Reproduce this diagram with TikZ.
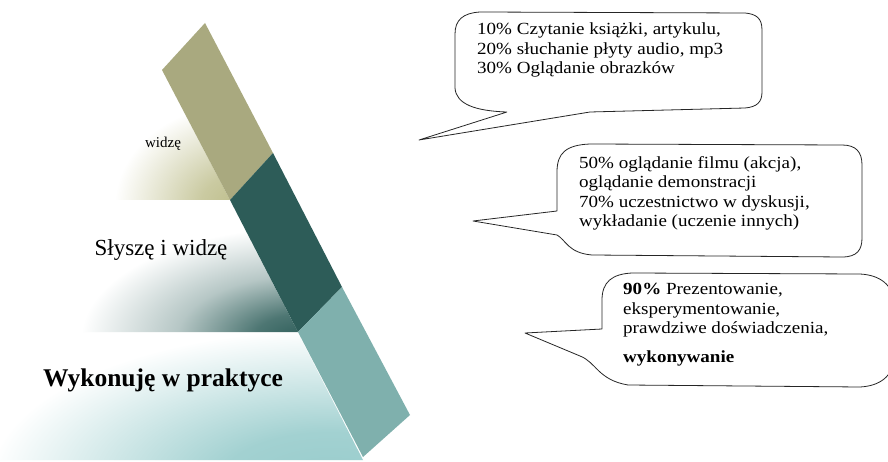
\documentclass[tikz,border=0pt]{standalone}
\usepackage{fontspec}
\setmainfont{Liberation Serif}
\newfontfamily\cfont[FakeStretch=1.12]{Liberation Serif}
\definecolor{olivestrip}{HTML}{A9A97F}
\definecolor{darkstrip}{HTML}{2D5C58}
\definecolor{tealstrip}{HTML}{7FB0AD}
\definecolor{olivetier}{HTML}{BDBD8A}
\definecolor{darktier}{HTML}{2E5E5A}
\definecolor{tealtier}{HTML}{98CCCC}
\pgfdeclareradialshading{topshade}{\pgfpoint{0bp}{0bp}}{color(0bp)=(olivetier); color(6bp)=(olivetier!80!white); color(19bp)=(white); color(50bp)=(white)}
\pgfdeclareradialshading{midshade}{\pgfpoint{0bp}{0bp}}{color(0bp)=(darktier); color(5bp)=(darktier!85!white); color(13bp)=(darktier!35!white); color(23bp)=(white); color(50bp)=(white)}
\pgfdeclareradialshading{botshade}{\pgfpoint{0bp}{0bp}}{color(0bp)=(tealtier); color(8bp)=(tealtier!90!white); color(25bp)=(white); color(50bp)=(white)}
\tikzset{
  bubble/.style={draw=black!85, line width=0.8pt, fill=white, line join=round},
  ctext/.style={anchor=north west, inner sep=0pt, align=left, font=\cfont\fontsize{17}{19.5}\selectfont},
}
\begin{document}
\begin{tikzpicture}[x=1pt,y=-1pt]
\useasboundingbox (0,0) rectangle (888,462);
\clip (0,0) rectangle (888,462);
\fill[white] (0,0) rectangle (888,462);
% pyramid tiers
\begin{scope}
  \clip (162,70) -- (230,200) -- (94,200) -- cycle;
  \shade[shading=topshade] (240,206) ellipse (165 and 135);
\end{scope}
\begin{scope}
  \clip (94,201) -- (230,201) -- (298,332) -- (26,332) -- cycle;
  \shade[shading=midshade] (302,338) ellipse (240 and 120);
\end{scope}
\begin{scope}
  \clip (26,333) -- (298,333) -- (363,460) -- (-39,460) -- cycle;
  \shade[shading=botshade] (330,480) ellipse (340 and 150);
\end{scope}
% strip
\fill[olivestrip] (162,70) -- (205,23) -- (273,153) -- (230,200) -- cycle;
\fill[darkstrip] (230,200) -- (273,153) -- (342,287) -- (298,332) -- cycle;
\fill[tealstrip] (298,332) -- (342,287) -- (410,415) -- (363,457) -- cycle;
% tier labels
\node[font=\fontsize{15}{17}\selectfont, anchor=base] (l1) at (163,148) {widzę};
\node[font=\fontsize{23}{26}\selectfont, anchor=base] (l2) at (161,255) {Słyszę i widzę};
\node[font=\bfseries\fontsize{25.5}{28}\selectfont, anchor=base] (l3) at (163,386) {Wykonuję w praktyce};
% callout 1
\draw[bubble] (507,112) -- (419,140) -- (590,112) -- (745,108)
  .. controls (757,107) and (762,102) .. (762,92) -- (762,30)
  .. controls (762,18) and (756,14) .. (745,13) -- (480,12)
  .. controls (463,13) and (455,20) .. (455,34) -- (455,88)
  .. controls (456,104) and (475,111) .. (507,112);
\node[ctext] (t1) at (477,23) {10\% Czytanie książki, artykulu,\\20\% słuchanie płyty audio, mp3\\30\% Oglądanie obrazków};
% callout 2
\draw[bubble] (557,211) -- (473,221) -- (557,235)
  .. controls (566,240) and (568,253) .. (592,255) -- (842,257)
  .. controls (857,257) and (862,250) .. (862,238) -- (862,165)
  .. controls (862,152) and (856,145) .. (842,145) -- (590,144)
  .. controls (566,145) and (557,153) .. (557,172) -- cycle;
\node[ctext] (t2) at (579,156) {50\% oglądanie filmu (akcja),\\oglądanie demonstracji\\70\% uczestnictwo w dyskusji,\\wykładanie (uczenie innych)};
% callout 3
\draw[bubble] (602,329) -- (525,333) -- (580,356)
  .. controls (596,362) and (598,380) .. (628,385) -- (860,387)
  .. controls (880,386) and (894,376) .. (894,356) -- (894,305)
  .. controls (894,285) and (880,275) .. (860,274) -- (632,273)
  .. controls (612,274) and (602,282) .. (602,300) -- cycle;
\node[ctext] (t3) at (623,283) {\textbf{90\%} Prezentowanie,\\eksperymentowanie,\\prawdziwe doświadczenia,};
\node[ctext, anchor=base west] (t4) at (623,362) {\textbf{wykonywanie}};
\end{tikzpicture}
\end{document}
